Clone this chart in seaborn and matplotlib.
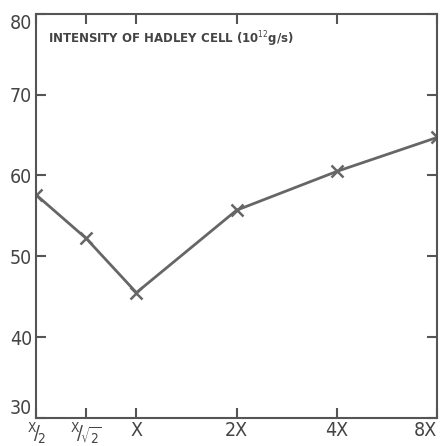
import numpy as np
import pandas as pd
import matplotlib
matplotlib.use('Agg')
import matplotlib.pyplot as plt
import seaborn as sns

# datos
factores = [0.5, 1 / np.sqrt(2), 1, 2, 4, 8]
etiquetas = [r'$^{\mathsf{X}}\!/_{\!\mathsf{2}}$', r'$^{\mathsf{X}}\!/_{\!\sqrt{\mathsf{2}}}$', 'X', '2X', '4X', '8X']
intensidad = [57.6, 52.2, 45.5, 55.7, 60.5, 64.7]
yticks = [30, 40, 50, 60, 70, 80]

sns.set_style('white')
plt.rcParams['font.family'] = ['DejaVu Sans']
plt.rcParams['font.stretch'] = 'condensed'
plt.rcParams['mathtext.fontset'] = 'dejavusans'

gris = '#666666'
df = pd.DataFrame({'factor': factores, 'intensidad': intensidad})

fig = plt.figure(figsize=(4.41, 4.46), dpi=100)
ax = fig.add_axes([0.082, 0.063, 0.909, 0.906])
sns.lineplot(data=df, x='factor', y='intensidad', color=gris, marker='x',
             markersize=8, markeredgewidth=1.8, markeredgecolor=gris,
             linewidth=2, ax=ax)

ax.set_xscale('log', base=2)
ax.set_xlim(0.5, 8)
ax.set_ylim(30, 80)
ax.set_xticks(factores)
ax.set_xticklabels(etiquetas)
ax.minorticks_off()
ax.set_yticks(yticks)
ax.set_xlabel('')
ax.set_ylabel('')

for s in ax.spines.values():
    s.set_color('#555555')
    s.set_linewidth(1.5)
ax.tick_params(direction='in', length=7, width=1.5, color='#555555',
               top=True, right=True, bottom=True, left=True,
               labelsize=14, labelcolor='#444444', pad=3)
ax.tick_params(axis='x', pad=2)

xl = ax.get_xticklabels()
for t in xl[:2]:
    t.set_fontsize(14)
xl[-1].set_ha('right')

yl = ax.get_yticklabels()
yl[0].set_va('bottom')
yl[-1].set_va('top')

ax.text(0.03, 0.926, r'INTENSITY OF HADLEY CELL (10$^{12}$g/s)',
        transform=ax.transAxes, fontsize=8.5, fontweight='bold',
        fontstretch='normal', color='#444444', va='baseline', ha='left')

plt.savefig('out.png', dpi=100)
